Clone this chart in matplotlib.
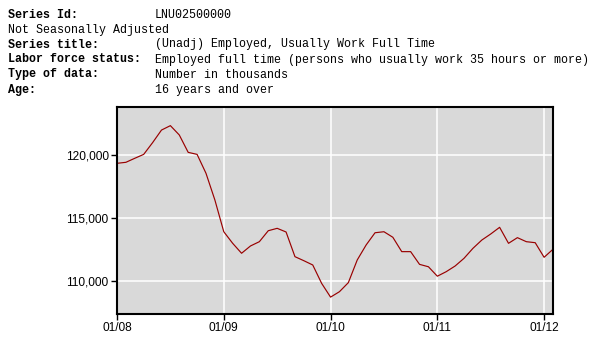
import matplotlib
matplotlib.use("Agg")
import matplotlib.pyplot as plt

# ---- data ----
months = list(range(50))  # Jan 2008 .. Feb 2012
values = [
    119340, 119420, 119740, 120050, 120980, 121980, 122330, 121590, 120210, 120050, 118550, 116430,  # 2008
    113910, 112990, 112200, 112780, 113120, 113990, 114180, 113890, 111930, 111610, 111270, 109810,  # 2009
    108720, 109150, 109870, 111670, 112860, 113830, 113910, 113470, 112330, 112330, 111320, 111130,  # 2010
    110380, 110740, 111190, 111800, 112590, 113250, 113730, 114260, 112990, 113440, 113120, 113040,  # 2011
    111880, 112520,  # 2012
]
xtick_pos = [0, 12, 24, 36, 48]
xtick_labels = ["01/08", "01/09", "01/10", "01/11", "01/12"]
ytick_pos = [110000, 115000, 120000]
ytick_labels = ["110,000", "115,000", "120,000"]

header_labels = ["Series Id:", None, "Series title:", "Labor force status:", "Type of data:", "Age:"]
header_values = ["LNU02500000", "Not Seasonally Adjusted", "(Unadj) Employed, Usually Work Full Time",
                 "Employed full time (persons who usually work 35 hours or more)",
                 "Number in thousands", "16 years and over"]

W, H = 596, 338
fig = plt.figure(figsize=(W / 100, H / 100), dpi=100)
fig.patch.set_facecolor("white")

# header text
mono = "Liberation Mono"
fs_head = 8.4
y0 = 14.5
dy = 15
for i, (lab, val) in enumerate(zip(header_labels, header_values)):
    y = 1 - (y0 + i * dy) / H
    if lab is None:
        fig.text(8 / W, y, val, family=mono, fontsize=fs_head, va="center", ha="left")
    else:
        fig.text(8 / W, y, lab, family=mono, fontsize=fs_head, fontweight="bold", va="center", ha="left")
        fig.text(155 / W, y, val, family=mono, fontsize=fs_head, va="center", ha="left")

# axes
left, right, top, bottom = 117, 553, 107, 314
ax = fig.add_axes([left / W, 1 - bottom / H, (right - left) / W, (bottom - top) / H])
ax.set_facecolor("#d9d9d9")
ax.plot(months, values, color="#990000", linewidth=0.85)
ax.set_xlim(0, 49)
ax.set_ylim(107380, 123810)
ax.set_xticks(xtick_pos)
ax.set_xticklabels(xtick_labels)
ax.set_yticks(ytick_pos)
ax.set_yticklabels(ytick_labels)
ax.grid(True, color="white", linewidth=1.1)
ax.set_axisbelow(True)
for s in ax.spines.values():
    s.set_color("black")
    s.set_linewidth(1.5)
ax.tick_params(axis="both", length=4, width=1, color="black", direction="out", pad=2,
               labelsize=8.6, labelcolor="black")
for lbl in ax.get_xticklabels() + ax.get_yticklabels():
    lbl.set_family("Liberation Sans")

fig.savefig("out.png", dpi=100)
